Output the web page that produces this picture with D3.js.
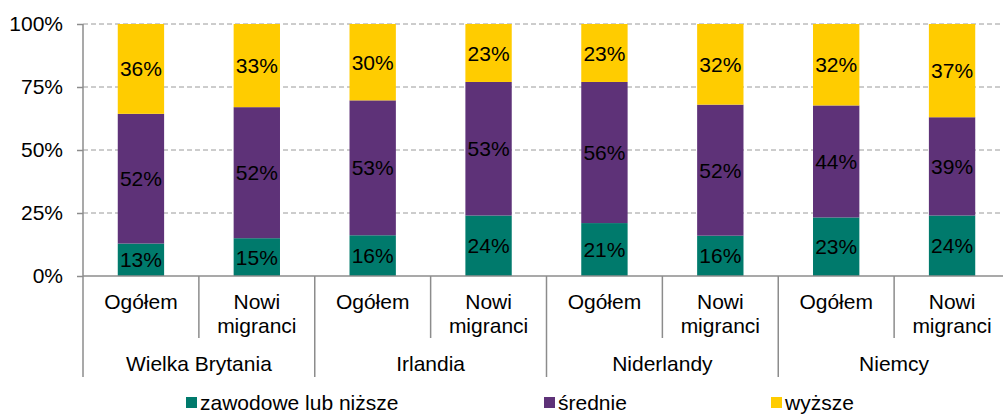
<!DOCTYPE html>
<html>
<head>
<meta charset="utf-8">
<script src="https://cdn.jsdelivr.net/npm/d3@7"></script>
<style>
  body { margin: 0; background: #fff; }
  svg { display: block; font-family: "Liberation Sans", Arial, sans-serif; }
</style>
</head>
<body>
<svg id="chart" width="1003" height="414"></svg>
<script>
// data
const countries = ['Wielka Brytania', 'Irlandia', 'Niderlandy', 'Niemcy'];
const groups = ['Ogółem', 'Nowi migranci'];
const seriesNames = ['zawodowe lub niższe', 'średnie', 'wyższe'];
const seriesKeys = ['low', 'mid', 'high'];
const lowValues  = [13, 15, 16, 24, 21, 16, 23, 24];
const midValues  = [52, 52, 53, 53, 56, 52, 44, 39];
const highValues = [36, 33, 30, 23, 23, 32, 32, 37];
const yTicks = [0, 0.25, 0.5, 0.75, 1];

const colors = ['#007A6C', '#5E3278', '#FFCC00'];
const fontSize = 21;

// build rows
let rows = [];
countries.forEach((c, ci) => {
    groups.forEach((g, gi) => {
        let i = ci * groups.length + gi;
        rows.push({
            key: c + '|' + g,
            country: c,
            group: g,
            low: lowValues[i],
            mid: midValues[i],
            high: highValues[i]
        });
    });
});

const svg = d3.select('#chart');
const plotLeft = 83, plotTop = 24, plotBottom = 276, plotRight = 1010;

const x = d3.scaleBand()
    .domain(rows.map(d => d.key))
    .range([plotLeft, plotRight])
    .paddingInner(0.6)
    .paddingOuter(0.3);

const y = d3.scaleLinear()
    .domain([0, 1])
    .range([plotBottom, plotTop]);

const stack = d3.stack()
    .keys(seriesKeys)
    .offset(d3.stackOffsetExpand);
const stacked = stack(rows);

// gridlines
svg.append('g')
    .selectAll('line')
    .data(yTicks.filter(d => d > 0))
    .join('line')
    .attr('x1', plotLeft)
    .attr('x2', 1003)
    .attr('y1', d => y(d))
    .attr('y2', d => y(d))
    .attr('stroke', '#9a9a9a')
    .attr('stroke-width', 1)
    .attr('stroke-dasharray', '5,3');

// y axis
const yAxis = svg.append('g')
    .attr('transform', `translate(${plotLeft},0)`)
    .call(d3.axisLeft(y).tickValues(yTicks).tickFormat(d3.format('.0%')).tickSize(6).tickPadding(14));
yAxis.select('.domain').remove();
yAxis.selectAll('.tick line').attr('stroke', '#8c8c8c').attr('stroke-width', 1.5);
yAxis.selectAll('.tick text')
    .attr('font-size', fontSize)
    .attr('fill', '#000')
    .attr('font-family', '"Liberation Sans", Arial, sans-serif');

// bars
const layer = svg.append('g')
    .selectAll('g')
    .data(stacked)
    .join('g')
    .attr('fill', (d, i) => colors[i]);

layer.selectAll('rect')
    .data(d => d)
    .join('rect')
    .attr('x', d => x(d.data.key))
    .attr('width', x.bandwidth())
    .attr('y', d => y(d[1]))
    .attr('height', d => y(d[0]) - y(d[1]));

// value labels
svg.append('g')
    .selectAll('g')
    .data(stacked)
    .join('g')
    .selectAll('text')
    .data(d => d.map(p => ({p: p, key: d.key})))
    .join('text')
    .attr('x', d => x(d.p.data.key) + x.bandwidth() / 2)
    .attr('y', d => (y(d.p[0]) + y(d.p[1])) / 2)
    .attr('dy', '0.36em')
    .attr('text-anchor', 'middle')
    .attr('font-size', fontSize)
    .attr('fill', '#000')
    .text(d => d.p.data[d.key] + '%');

// axis lines
const axisColor = '#8c8c8c';
svg.append('line')
    .attr('x1', plotLeft).attr('x2', 1003)
    .attr('y1', plotBottom).attr('y2', plotBottom)
    .attr('stroke', axisColor).attr('stroke-width', 1.5);
svg.append('line')
    .attr('x1', plotLeft).attr('x2', plotLeft)
    .attr('y1', plotTop).attr('y2', 377)
    .attr('stroke', axisColor).attr('stroke-width', 1.5);

// category separators
const step = x.step();
const sepData = d3.range(1, rows.length).map(i => ({
    pos: plotLeft + i * step,
    major: i % groups.length === 0
}));
svg.append('g')
    .selectAll('line')
    .data(sepData)
    .join('line')
    .attr('x1', d => d.pos).attr('x2', d => d.pos)
    .attr('y1', plotBottom)
    .attr('y2', d => d.major ? 377 : 338)
    .attr('stroke', axisColor).attr('stroke-width', 1.5);

// sub-category labels
const subLabels = svg.append('g')
    .selectAll('text')
    .data(rows)
    .join('text')
    .attr('text-anchor', 'middle')
    .attr('font-size', fontSize)
    .attr('fill', '#000');
subLabels.each(function(d) {
    let words = d.group.split(' ');
    let cx = x(d.key) + x.bandwidth() / 2;
    d3.select(this).selectAll('tspan')
        .data(words)
        .join('tspan')
        .attr('x', cx)
        .attr('y', (w, i) => 309 + i * 24)
        .text(w => w);
});

// country labels
svg.append('g')
    .selectAll('text')
    .data(countries)
    .join('text')
    .attr('x', (d, i) => plotLeft + (i * groups.length + groups.length / 2) * step)
    .attr('y', 371)
    .attr('text-anchor', 'middle')
    .attr('font-size', fontSize)
    .attr('fill', '#000')
    .text(d => d);

// legend
const legendX = [186, 544, 771];
const legend = svg.append('g')
    .selectAll('g')
    .data(seriesNames)
    .join('g')
    .attr('transform', (d, i) => `translate(${legendX[i]},397)`);
legend.append('rect')
    .attr('width', 11).attr('height', 11)
    .attr('fill', (d, i) => colors[i]);
legend.append('text')
    .attr('x', 14)
    .attr('y', 13)
    .attr('font-size', fontSize)
    .attr('fill', '#000')
    .text(d => d);
</script>
</body>
</html>
